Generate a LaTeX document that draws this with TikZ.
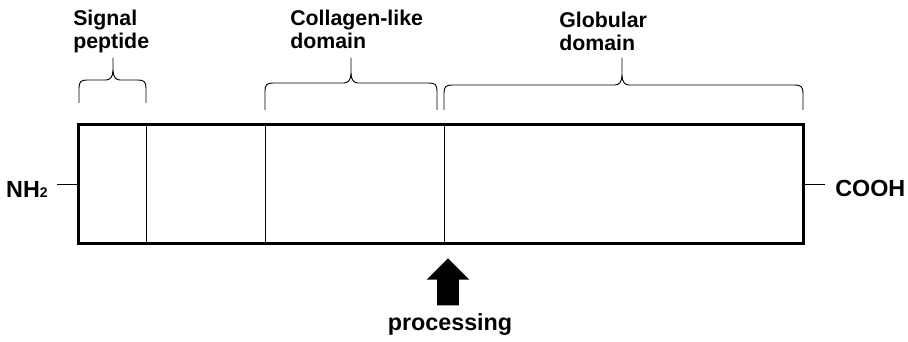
\documentclass[tikz,border=0pt]{standalone}
\usepackage{fontspec}
\setmainfont{Liberation Sans}
\usetikzlibrary{shapes.arrows}
\tikzset{domain label/.style={font=\bfseries\fontsize{16}{17.25}\selectfont,align=left,inner sep=0pt},
	end label/.style={font=\bfseries\fontsize{17.5}{20}\selectfont,inner sep=0pt},
	divider/.style={line width=0.75pt},
	domain brace/.style={line width=0.7pt,line join=round},
}

\begin{document}
\begin{tikzpicture}[x=0.75pt,y=-0.75pt]
				\useasboundingbox (0,0) rectangle (908,342);
				\node[draw,line width=2.25pt,minimum width=543.75pt,minimum height=89.25pt,inner sep=0pt] (protein) at (440.5,184.5) {};
				
				% domain borders
				\foreach \x in {146,265,444}
				\draw[divider] (\x,125) -- (\x,244);
				
				% ends of the chain
				\node[end label,anchor=base east] (nh) at (48,198) {NH{\fontsize{10.5}{11}\selectfont 2}};
				\node[end label,anchor=base west] (cooh) at (835,197) {COOH};
				\draw[divider,shorten >=6.75pt] (protein.west) -- (nh.east |- protein.west);
				\draw[divider,shorten >=7.5pt] (protein.east) -- (cooh.west |- protein.east);
				
				% braces over the domains
				\foreach \a/\b/\m/\l/\e in {79/146/113/80/103,265/437/351/83/110,444/803/622/85/110}
				\draw[domain brace] (\a,\e) -- (\a,\l+8) .. controls (\a,\l+2) and (\a+2,\l) .. (\a+8,\l)
				-- (\m-7,\l) .. controls (\m-3,\l) and (\m,\l-3) .. (\m,\l-10) -- (\m,58)
				-- (\m,\l-10) .. controls (\m,\l-3) and (\m+3,\l) .. (\m+7,\l)
				-- (\b-8,\l) .. controls (\b-2,\l) and (\b,\l+2) .. (\b,\l+8) -- (\b,\e);
				
				\node[domain label,anchor=north west] (signal) at (73,10) {Signal\\peptide};
				\node[domain label,anchor=north west] (collagen) at (290,10) {Collagen-like\\domain};
				\node[domain label,anchor=north west] (globular) at (559,12) {Globular\\domain};
				
				% cleavage site
				\node[single arrow,fill=black,shape border rotate=90,minimum height=35.25pt,
				inner sep=7.9pt,single arrow head extend=7.9pt,anchor=tip] (cut) at (448,258) {};
				\node[end label,anchor=base] (proc) at (450,330) {processing};
				
\end{tikzpicture}
\end{document}
